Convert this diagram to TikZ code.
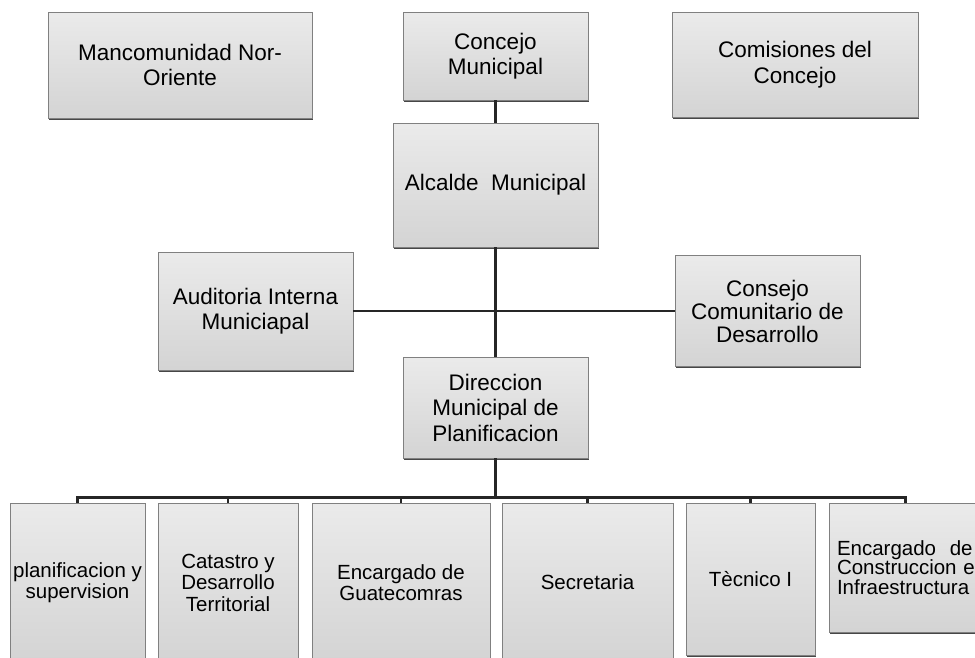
\documentclass[tikz,border=0pt]{standalone}
\usepackage{fontspec}
\setmainfont{Liberation Sans}
\usetikzlibrary{shadows}

\tikzset{
  box/.style={draw=black!50, line width=0.6pt, top color=gray!16, bottom color=gray!34,
    inner sep=0pt, align=center,
    drop shadow={shadow xshift=0.6pt, shadow yshift=-1.8pt, fill=black!80, opacity=0.9},
    font=\fontsize{22.5}{25.5}\selectfont},
  lowbox/.style={box, minimum height=159pt, font=\fontsize{20.5}{21.5}\selectfont},
  link/.style={line width=2.8pt, draw=black!85}
}

\begin{document}
\begin{tikzpicture}[x=1pt, y=-1pt]

        \useasboundingbox (0,0) rectangle (975,657);
        \clip (0,0) rectangle (975,657);

        % top row
        \node[box, minimum width=264pt, minimum height=106pt] (manc) at (180,65) {Mancomunidad Nor-\\Oriente};
        \node[box, minimum width=185pt, minimum height=88pt] (concejo) at (495.5,56) {Concejo\\Municipal};
        \node[box, minimum width=246pt, minimum height=105pt] (comis) at (795,64.5) {Comisiones del\\Concejo};

        \node[box, minimum width=205pt, minimum height=124pt] (alcalde) at (495.5,185) {Alcalde\ \ Municipal};

        \node[box, minimum width=195pt, minimum height=118pt] (audit) at (255.5,311) {Auditoria Interna\\Municiapal};
        \node[box, minimum width=185pt, minimum height=111pt, font=\fontsize{22.5}{23}\selectfont] (consejo) at (767.5,311) {Consejo\\Comunitario de\\Desarrollo};

        \node[box, minimum width=185pt, minimum height=101pt] (direcc) at (495.5,407.5) {Direccion\\Municipal de\\Planificacion};

        % bottom row
        \node[lowbox, minimum width=135pt] (b1) at (77.5,582.5) {planificacion y\\supervision};
        \node[lowbox, minimum width=140pt] (b2) at (228,582.5) {Catastro y\\Desarrollo\\Territorial};
        \node[lowbox, minimum width=178pt] (b3) at (401,582.5) {Encargado de\\Guatecomras};
        \node[lowbox, minimum width=171pt] (b4) at (587.5,582.5) {Secretaria};
        \node[lowbox, minimum width=129pt, minimum height=152pt] (b5) at (750.5,579) {Tècnico I};
        \node[lowbox, minimum height=129pt, inner xsep=8pt, text width=155pt, align=left,
              font=\fontsize{20.5}{19.5}\selectfont] (b6) at (914.5,567.5) {Encargado\ \ de\\Construccion e\\Infraestructura};

        \draw[link] (concejo) -- (alcalde);
        \draw[link] (alcalde) -- (direcc);
        \draw[link] (audit) -- (consejo);

        \foreach \b in {b1,b2,b3,b4,b5}
            \draw[link] (direcc.south) -- ++(0,39) -| (\b.north);
        \draw[link] (direcc.south) -- ++(0,39) -| ([xshift=-9pt]b6.north);

\end{tikzpicture}
\end{document}
